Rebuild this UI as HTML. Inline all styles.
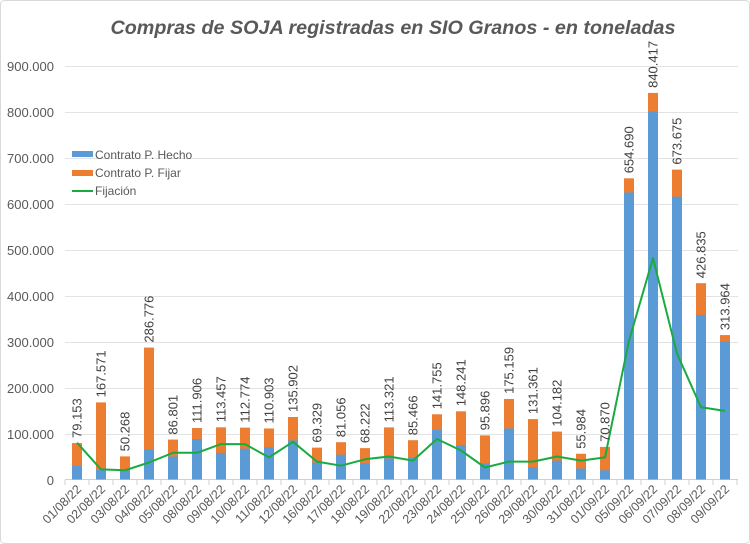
<!DOCTYPE html>
<html><head><meta charset="utf-8"><style>
html,body{margin:0;padding:0;background:#fff}
svg{display:block;font-family:"Liberation Sans",sans-serif}
</style></head><body>
<svg width="750" height="544" viewBox="0 0 750 544" xmlns="http://www.w3.org/2000/svg">
<rect x="0.5" y="0.5" width="749" height="543" rx="4" fill="#fff" stroke="#d9d9d9"/>
<text x="393" y="34" text-anchor="middle" font-size="19" font-weight="bold" font-style="italic" fill="#595959" textLength="565" lengthAdjust="spacingAndGlyphs">Compras de SOJA registradas en SIO Granos - en toneladas</text>
<g stroke="#e3e3e3" stroke-width="1">
<line x1="65" x2="738" y1="66.5" y2="66.5"/><line x1="65" x2="738" y1="112.5" y2="112.5"/>
<line x1="65" x2="738" y1="158.5" y2="158.5"/><line x1="65" x2="738" y1="204.5" y2="204.5"/>
<line x1="65" x2="738" y1="250.5" y2="250.5"/><line x1="65" x2="738" y1="296.5" y2="296.5"/>
<line x1="65" x2="738" y1="342.5" y2="342.5"/><line x1="65" x2="738" y1="388.5" y2="388.5"/>
<line x1="65" x2="738" y1="434.5" y2="434.5"/>
</g>
<line x1="65" x2="738" y1="479.5" y2="479.5" stroke="#d0d0d0"/>
<g font-size="13" fill="#595959" text-anchor="end">
<text x="54" y="71">900.000</text><text x="54" y="117">800.000</text><text x="54" y="163">700.000</text>
<text x="54" y="209">600.000</text><text x="54" y="255">500.000</text><text x="54" y="301">400.000</text>
<text x="54" y="347">300.000</text><text x="54" y="393">200.000</text><text x="54" y="439">100.000</text>
<text x="54" y="485">0</text>
</g>
<g fill="#ed7d31">
<rect x="72" y="443.09" width="10" height="36.41"/>
<rect x="96" y="402.42" width="10" height="77.08"/>
<rect x="120" y="456.38" width="10" height="23.12"/>
<rect x="144" y="347.58" width="10" height="131.92"/>
<rect x="168" y="439.57" width="10" height="39.93"/>
<rect x="192" y="428.02" width="10" height="51.48"/>
<rect x="216" y="427.31" width="10" height="52.19"/>
<rect x="240" y="427.62" width="10" height="51.88"/>
<rect x="264" y="428.48" width="10" height="51.02"/>
<rect x="288" y="416.99" width="10" height="62.51"/>
<rect x="312" y="447.61" width="10" height="31.89"/>
<rect x="336" y="442.21" width="10" height="37.29"/>
<rect x="360" y="448.12" width="10" height="31.38"/>
<rect x="384" y="427.37" width="10" height="52.13"/>
<rect x="408" y="440.19" width="10" height="39.31"/>
<rect x="432" y="414.29" width="10" height="65.21"/>
<rect x="456" y="411.31" width="10" height="68.19"/>
<rect x="480" y="435.39" width="10" height="44.11"/>
<rect x="504" y="398.93" width="10" height="80.57"/>
<rect x="528" y="419.07" width="10" height="60.43"/>
<rect x="552" y="431.58" width="10" height="47.92"/>
<rect x="576" y="453.75" width="10" height="25.75"/>
<rect x="600" y="446.9" width="10" height="32.6"/>
<rect x="624" y="178.34" width="10" height="301.16"/>
<rect x="648" y="92.91" width="10" height="386.59"/>
<rect x="672" y="169.61" width="10" height="309.89"/>
<rect x="696" y="283.16" width="10" height="196.34"/>
<rect x="720" y="335.08" width="10" height="144.42"/>
</g>
<g fill="#5b9bd5">
<rect x="72" y="465.7" width="10" height="13.8"/>
<rect x="96" y="469.84" width="10" height="9.66"/>
<rect x="120" y="470.3" width="10" height="9.2"/>
<rect x="144" y="449.6" width="10" height="29.9"/>
<rect x="168" y="456.5" width="10" height="23"/>
<rect x="192" y="439.02" width="10" height="40.48"/>
<rect x="216" y="452.82" width="10" height="26.68"/>
<rect x="240" y="448.68" width="10" height="30.82"/>
<rect x="264" y="447.3" width="10" height="32.2"/>
<rect x="288" y="440.4" width="10" height="39.1"/>
<rect x="312" y="462.48" width="10" height="17.02"/>
<rect x="336" y="454.66" width="10" height="24.84"/>
<rect x="360" y="463.4" width="10" height="16.1"/>
<rect x="384" y="458.34" width="10" height="21.16"/>
<rect x="408" y="457.42" width="10" height="22.08"/>
<rect x="432" y="429.82" width="10" height="49.68"/>
<rect x="456" y="445" width="10" height="34.5"/>
<rect x="480" y="463.4" width="10" height="16.1"/>
<rect x="504" y="428.44" width="10" height="51.06"/>
<rect x="528" y="467.54" width="10" height="11.96"/>
<rect x="552" y="460.64" width="10" height="18.86"/>
<rect x="576" y="468.46" width="10" height="11.04"/>
<rect x="600" y="470.3" width="10" height="9.2"/>
<rect x="624" y="192.46" width="10" height="287.04"/>
<rect x="648" y="111.5" width="10" height="368"/>
<rect x="672" y="196.6" width="10" height="282.9"/>
<rect x="696" y="314.82" width="10" height="164.68"/>
<rect x="720" y="341.5" width="10" height="138"/>
</g>
<polyline fill="none" stroke="#1aab40" stroke-width="2" stroke-linejoin="round" points="77,442.7 101,469.4 125,470.3 149,462.5 173,452.8 197,452.8 221,444.1 245,444.1 269,457.4 293,441.8 317,461.6 341,465.7 365,459.3 389,456.5 413,460.6 437,439 461,450.5 485,467.5 509,461.6 533,461.6 557,456.5 581,460.6 605,457.4 629,340.6 653,258.2 677,353.5 701,407.3 725,410.9"/>
<g font-size="13" fill="#404040">
<text transform="translate(81.5,438) rotate(-90)">79.153</text>
<text transform="translate(105.5,397.4) rotate(-90)">167.571</text>
<text transform="translate(129.5,451.4) rotate(-90)">50.268</text>
<text transform="translate(153.5,342.6) rotate(-90)">286.776</text>
<text transform="translate(177.5,434.6) rotate(-90)">86.801</text>
<text transform="translate(201.5,423) rotate(-90)">111.906</text>
<text transform="translate(225.5,422.3) rotate(-90)">113.457</text>
<text transform="translate(249.5,422.6) rotate(-90)">112.774</text>
<text transform="translate(273.5,423.5) rotate(-90)">110.903</text>
<text transform="translate(297.5,412) rotate(-90)">135.902</text>
<text transform="translate(321.5,442.6) rotate(-90)">69.329</text>
<text transform="translate(345.5,437.2) rotate(-90)">81.056</text>
<text transform="translate(369.5,443.1) rotate(-90)">68.222</text>
<text transform="translate(393.5,422.4) rotate(-90)">113.321</text>
<text transform="translate(417.5,435.2) rotate(-90)">85.466</text>
<text transform="translate(441.5,409.3) rotate(-90)">141.755</text>
<text transform="translate(465.5,406.3) rotate(-90)">148.241</text>
<text transform="translate(489.5,430.4) rotate(-90)">95.896</text>
<text transform="translate(513.5,393.9) rotate(-90)">175.159</text>
<text transform="translate(537.5,414.1) rotate(-90)">131.361</text>
<text transform="translate(561.5,426.6) rotate(-90)">104.182</text>
<text transform="translate(585.5,448.8) rotate(-90)">55.984</text>
<text transform="translate(609.5,441.9) rotate(-90)">70.870</text>
<text transform="translate(633.5,173.3) rotate(-90)">654.690</text>
<text transform="translate(657.5,87.9) rotate(-90)">840.417</text>
<text transform="translate(681.5,164.6) rotate(-90)">673.675</text>
<text transform="translate(705.5,278.2) rotate(-90)">426.835</text>
<text transform="translate(729.5,330.1) rotate(-90)">313.964</text>
</g>
<g stroke="#d0d0d0">
<line x1="65" x2="65" y1="480" y2="485"/><line x1="89" x2="89" y1="480" y2="485"/><line x1="113" x2="113" y1="480" y2="485"/><line x1="137" x2="137" y1="480" y2="485"/><line x1="161" x2="161" y1="480" y2="485"/><line x1="185" x2="185" y1="480" y2="485"/><line x1="209" x2="209" y1="480" y2="485"/><line x1="233" x2="233" y1="480" y2="485"/><line x1="257" x2="257" y1="480" y2="485"/><line x1="281" x2="281" y1="480" y2="485"/><line x1="305" x2="305" y1="480" y2="485"/><line x1="329" x2="329" y1="480" y2="485"/><line x1="353" x2="353" y1="480" y2="485"/><line x1="377" x2="377" y1="480" y2="485"/><line x1="401" x2="401" y1="480" y2="485"/><line x1="425" x2="425" y1="480" y2="485"/><line x1="449" x2="449" y1="480" y2="485"/><line x1="473" x2="473" y1="480" y2="485"/><line x1="497" x2="497" y1="480" y2="485"/><line x1="521" x2="521" y1="480" y2="485"/><line x1="545" x2="545" y1="480" y2="485"/><line x1="569" x2="569" y1="480" y2="485"/><line x1="593" x2="593" y1="480" y2="485"/><line x1="617" x2="617" y1="480" y2="485"/><line x1="641" x2="641" y1="480" y2="485"/><line x1="665" x2="665" y1="480" y2="485"/><line x1="689" x2="689" y1="480" y2="485"/><line x1="713" x2="713" y1="480" y2="485"/><line x1="737" x2="737" y1="480" y2="485"/>
</g>
<g font-size="12.5" fill="#595959" text-anchor="end">
<text transform="translate(82,490) rotate(-45)">01/08/22</text>
<text transform="translate(106,490) rotate(-45)">02/08/22</text>
<text transform="translate(130,490) rotate(-45)">03/08/22</text>
<text transform="translate(154,490) rotate(-45)">04/08/22</text>
<text transform="translate(178,490) rotate(-45)">05/08/22</text>
<text transform="translate(202,490) rotate(-45)">08/08/22</text>
<text transform="translate(226,490) rotate(-45)">09/08/22</text>
<text transform="translate(250,490) rotate(-45)">10/08/22</text>
<text transform="translate(274,490) rotate(-45)">11/08/22</text>
<text transform="translate(298,490) rotate(-45)">12/08/22</text>
<text transform="translate(322,490) rotate(-45)">16/08/22</text>
<text transform="translate(346,490) rotate(-45)">17/08/22</text>
<text transform="translate(370,490) rotate(-45)">18/08/22</text>
<text transform="translate(394,490) rotate(-45)">19/08/22</text>
<text transform="translate(418,490) rotate(-45)">22/08/22</text>
<text transform="translate(442,490) rotate(-45)">23/08/22</text>
<text transform="translate(466,490) rotate(-45)">24/08/22</text>
<text transform="translate(490,490) rotate(-45)">25/08/22</text>
<text transform="translate(514,490) rotate(-45)">26/08/22</text>
<text transform="translate(538,490) rotate(-45)">29/08/22</text>
<text transform="translate(562,490) rotate(-45)">30/08/22</text>
<text transform="translate(586,490) rotate(-45)">31/08/22</text>
<text transform="translate(610,490) rotate(-45)">01/09/22</text>
<text transform="translate(634,490) rotate(-45)">05/09/22</text>
<text transform="translate(658,490) rotate(-45)">06/09/22</text>
<text transform="translate(682,490) rotate(-45)">07/09/22</text>
<text transform="translate(706,490) rotate(-45)">08/09/22</text>
<text transform="translate(730,490) rotate(-45)">09/09/22</text>
</g>
<g font-size="12" fill="#595959">
<rect x="72" y="151" width="21" height="6" fill="#5b9bd5"/><text x="95" y="159">Contrato P. Hecho</text>
<rect x="72" y="170" width="21" height="6" fill="#ed7d31"/><text x="95" y="177">Contrato P. Fijar</text>
<line x1="72" x2="93" y1="191" y2="191" stroke="#1aab40" stroke-width="2"/><text x="95" y="195">Fijación</text>
</g>
</svg>
</body></html>
